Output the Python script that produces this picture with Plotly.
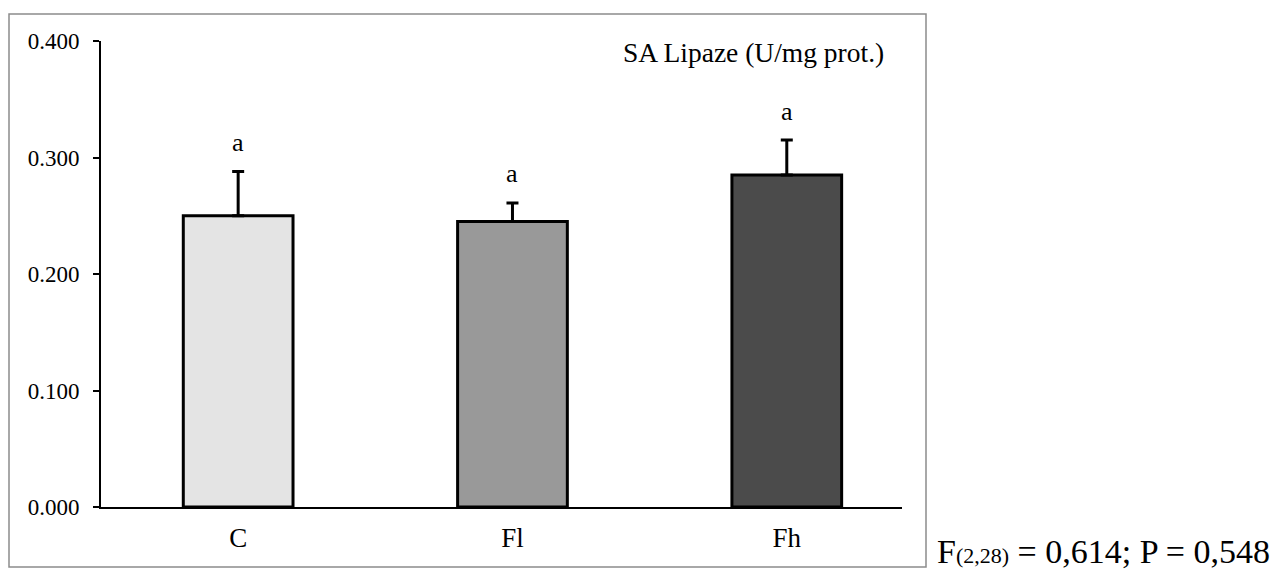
import plotly.graph_objects as go

categories = ["C", "Fl", "Fh"]
means = [0.250, 0.245, 0.285]
errors = [0.038, 0.016, 0.030]
letters = ["a", "a", "a"]
colors = ["#e4e4e4", "#999999", "#4b4b4b"]
y_ticks = [0.0, 0.1, 0.2, 0.3, 0.4]

W, H = 1277, 569
L, R, T, B = 101, 1277 - 902, 41, 569 - 507
pw, ph = W - L - R, H - T - B

FONT = "Liberation Serif"

fig = go.Figure()
fig.add_trace(go.Bar(
    x=categories, y=means,
    width=0.40,
    marker=dict(color=colors, line=dict(color="black", width=3)),
    error_y=dict(type="data", symmetric=False, array=errors,
                 arrayminus=[0] * len(errors),
                 color="black", thickness=3, width=6),
    showlegend=False,
    hoverinfo="skip",
))

for c, m, e, t in zip(categories, means, errors, letters):
    fig.add_annotation(x=c, y=m + e, text=t, showarrow=False,
                       yanchor="middle", yshift=29,
                       font=dict(family=FONT, size=26, color="black"))

fig.add_annotation(xref="paper", yref="paper", x=(753 - L) / pw, y=(507 - 52) / ph,
                   text="SA Lipaze (U/mg prot.)", showarrow=False,
                   xanchor="center", yanchor="middle",
                   font=dict(family=FONT, size=27.5, color="black"))

fig.add_annotation(xref="paper", yref="paper", x=(935 - L) / pw, y=(507 - 551) / ph,
                   text='F<span style="font-size:22px">(2,28)</span> = 0,614; P = 0,548',
                   showarrow=False,
                   xanchor="left", yanchor="middle",
                   font=dict(family=FONT, size=34, color="black"))

fig.add_shape(type="rect", xref="paper", yref="paper",
              x0=(9 - L) / pw, x1=(926 - L) / pw,
              y0=(507 - 567) / ph, y1=(507 - 14) / ph,
              line=dict(color="#8c8c8c", width=1.5), fillcolor="rgba(0,0,0,0)",
              layer="below")

fig.update_layout(
    width=W, height=H,
    margin=dict(l=L, r=R, t=T, b=B, pad=0),
    plot_bgcolor="white", paper_bgcolor="white",
    font=dict(family=FONT, color="black"),
)
fig.update_xaxes(
    range=[-0.5, 2.42], showgrid=False, zeroline=False,
    showline=True, linecolor="black", linewidth=2,
    ticks="", tickfont=dict(family=FONT, size=27, color="black"),
    ticklabelstandoff=6,
)
fig.update_yaxes(
    range=[0, 0.4], tickvals=y_ticks, tickformat=".3f",
    showgrid=False, zeroline=False,
    showline=True, linecolor="black", linewidth=2,
    ticks="outside", ticklen=6, tickwidth=2, tickcolor="black",
    tickfont=dict(family=FONT, size=23, color="black"),
    ticklabelstandoff=9,
)

fig.write_html("out.html", config={"displayModeBar": False},
               post_script="document.body.style.margin='0';document.body.style.overflow='hidden';")
